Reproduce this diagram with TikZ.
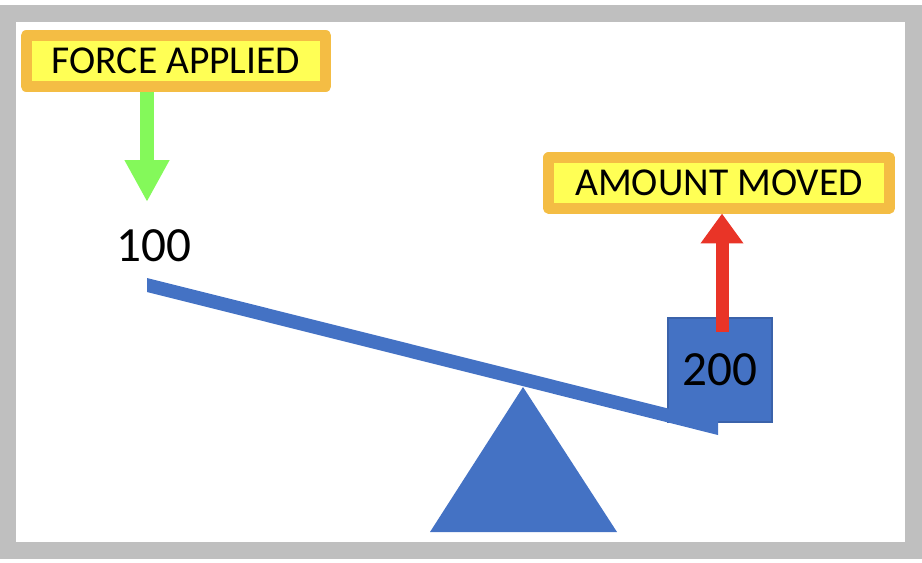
\documentclass[tikz,border=0pt]{standalone}
\usepackage{fontspec}
\setmainfont{Carlito}
\usetikzlibrary{arrows.meta, positioning}
\definecolor{FrameGray}{HTML}{BFBFBF}
\definecolor{LabelGold}{HTML}{F4BD44}
\definecolor{LabelYellow}{HTML}{FFFF55}
\definecolor{LeverBlue}{HTML}{4472C4}
\definecolor{LeverEdge}{HTML}{3A62AA}
\definecolor{ForceGreen}{HTML}{84F95A}
\definecolor{MoveRed}{HTML}{E93427}

\begin{document}
\begin{tikzpicture}[x=0.02cm, y=-0.02cm,
    every node/.style={font=\fontsize{22.5}{26}\selectfont},
    label box/.style={draw=LabelGold, line width=6.26pt, line join=round, fill=LabelYellow, minimum height=28.5pt, inner sep=0pt},
    number/.style={font=\fontsize{28}{32}\selectfont}]
    \useasboundingbox (0,0) rectangle (922,562);
    % grey frame round the slide
    \draw[FrameGray, line width=9.67pt] (8,13.5) rectangle (913,550);

    % labels at the top
    \node[label box, minimum width=170.7pt] (force) at (176,61) {FORCE APPLIED};
    \node[label box, minimum width=194pt] (moved) at (719,183) {AMOUNT MOVED};

    % fulcrum and lever
    \fill[LeverBlue] (523,387) -- (617,532) -- (430,532) -- cycle;
    \node[fill=LeverBlue, draw=LeverEdge, line width=0.6pt, minimum size=59.2pt, inner sep=0pt, number] (load) at (720,370) {200};
    \fill[LeverBlue] (147,278) -- (718,421) -- (718,435) -- (147,292) -- cycle;
    \node[number] (effort) at (154,246) {100};

    % arrows
    \coordinate (push) at (147,202);
    \coordinate (lift) at (722,332);
    \draw[ForceGreen, line width=8pt, -{Triangle[length=23.9pt, width=23.9pt]}] (force.south -| push) -- (push);
    \draw[MoveRed, line width=7.4pt, -{Triangle[length=17pt, width=23.3pt]}] (lift) -- (moved.south -| lift);
\end{tikzpicture}
\end{document}
